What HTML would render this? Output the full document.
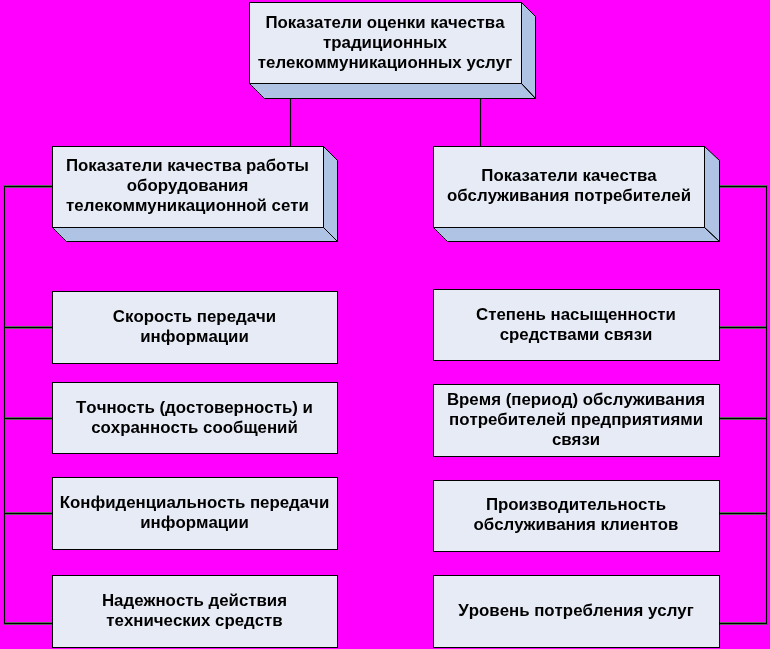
<!DOCTYPE html>
<html><head><meta charset="utf-8">
<style>
html,body{margin:0;padding:0;}
body{width:770px;height:649px;background:#ff00ff;position:relative;overflow:hidden;font-family:"Liberation Sans",sans-serif;}
svg{position:absolute;left:0;top:0;}
.t{position:absolute;text-align:center;font-weight:bold;font-size:16.83px;line-height:20px;color:#000;white-space:nowrap;will-change:transform;font-kerning:none;}
</style></head><body>
<svg width="770" height="649" viewBox="0 0 770 649" shape-rendering="crispEdges">
<defs><path id="ln" d="M290.5,98 V146 M480.5,98 V146 M52,186.5 H4.5 V623.5 H52 M4.5,327.5 H52 M4.5,418.5 H52 M4.5,513.5 H52 M719,186.5 H766.5 V623.5 H719 M719,327.5 H766.5 M719,418.5 H766.5 M719,513.5 H766.5"/></defs>
<use href="#ln" stroke="rgb(90,105,90)" stroke-width="3" fill="none"/>
<use href="#ln" stroke="#000" stroke-width="1" fill="none"/>
<g stroke="#000" stroke-width="1" fill="#e6ebf6">
  <rect x="52.5" y="291.5" width="285" height="72"/>
  <rect x="52.5" y="382.5" width="285" height="71"/>
  <rect x="52.5" y="477.5" width="285" height="72"/>
  <rect x="52.5" y="575.5" width="285" height="72"/>
  <rect x="433.5" y="289.5" width="286" height="71"/>
  <rect x="433.5" y="384.5" width="286" height="72"/>
  <rect x="433.5" y="480.5" width="286" height="71"/>
  <rect x="433.5" y="575.5" width="286" height="72"/>
</g>
</svg>
<svg width="770" height="649" viewBox="0 0 770 649">
<g stroke="#000" stroke-width="1" stroke-linejoin="miter">
  <!-- top box -->
  <path d="M249.5,83.5 L521.5,83.5 L535.5,98.5 L264.5,98.5 Z M521.5,2.5 L535.5,16.5 L535.5,98.5 L521.5,83.5 Z" fill="#afc4e4"/>
  <rect x="249.5" y="2.5" width="272" height="81" fill="#e6ebf6"/>
  <!-- left header -->
  <path d="M52.5,227.5 L323.5,227.5 L337.5,241.5 L66.5,241.5 Z M323.5,146.5 L337.5,160.5 L337.5,241.5 L323.5,227.5 Z" fill="#afc4e4"/>
  <rect x="52.5" y="146.5" width="271" height="81" fill="#e6ebf6"/>
  <!-- right header -->
  <path d="M433.5,227.5 L704.5,227.5 L719.5,241.5 L447.5,241.5 Z M704.5,146.5 L719.5,160.5 L719.5,241.5 L704.5,227.5 Z" fill="#afc4e4"/>
  <rect x="433.5" y="146.5" width="271" height="81" fill="#e6ebf6"/>
</g>
</svg>

<div class="t" style="left:248.5px;top:13px;width:272px;">Показатели оценки качества<br>традиционных<br>телекоммуникационных услуг</div>
<div class="t" style="left:51.5px;top:156px;width:271px;">Показатели качества работы<br>оборудования<br>телекоммуникационной сети</div>
<div class="t" style="left:432.5px;top:166px;width:272px;">Показатели качества<br>обслуживания потребителей</div>

<div class="t" style="left:51.5px;top:307px;width:285px;">Скорость передачи<br>информации</div>
<div class="t" style="left:51.5px;top:398px;width:285px;">Точность (достоверность) и<br>сохранность сообщений</div>
<div class="t" style="left:51.5px;top:493px;width:285px;">Конфиденциальность передачи<br>информации</div>
<div class="t" style="left:51.5px;top:591px;width:285px;">Надежность действия<br>технических средств</div>

<div class="t" style="left:432.5px;top:305px;width:286px;">Степень насыщенности<br>средствами связи</div>
<div class="t" style="left:432.5px;top:390px;width:286px;">Время (период) обслуживания<br>потребителей предприятиями<br>связи</div>
<div class="t" style="left:432.5px;top:495px;width:286px;">Производительность<br>обслуживания клиентов</div>
<div class="t" style="left:432.5px;top:601px;width:286px;">Уровень потребления услуг</div>
</body></html>
